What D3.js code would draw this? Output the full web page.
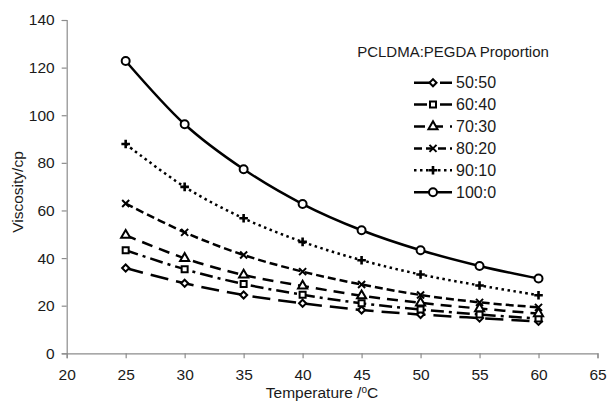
<!DOCTYPE html>
<html>
<head>
<meta charset="utf-8">
<script src="https://cdn.jsdelivr.net/npm/d3@7"></script>
<style>
  html, body { margin: 0; padding: 0; background: #fff; }
  svg { display: block; font-family: "Liberation Sans", Arial, sans-serif; }
</style>
</head>
<body>
<svg id="chart" width="609" height="401"></svg>
<script>
// Viscosity of PCLDMA:PEGDA blends against temperature
const temperatures = [25, 30, 35, 40, 45, 50, 55, 60];
const seriesNames = ["50:50", "60:40", "70:30", "80:20", "90:10", "100:0"];
const visc_50_50 = [35.8, 29.4, 24.5, 21.0, 18.2, 16.3, 14.8, 13.4];
const visc_60_40 = [43.3, 35.3, 29.1, 24.6, 21.0, 18.4, 16.3, 14.6];
const visc_70_30 = [49.6, 39.9, 32.9, 28.3, 24.2, 21.2, 18.8, 16.7];
const visc_80_20 = [62.9, 50.8, 41.3, 34.3, 28.9, 24.5, 21.4, 19.3];
const visc_90_10 = [87.9, 69.9, 56.7, 46.8, 39.1, 33.1, 28.5, 24.4];
const visc_100_0 = [122.8, 96.2, 77.3, 62.7, 51.7, 43.3, 36.7, 31.4];
const xTicks = [20, 25, 30, 35, 40, 45, 50, 55, 60, 65];
const yTicks = [0, 20, 40, 60, 80, 100, 120, 140];

const seriesValues = [visc_50_50, visc_60_40, visc_70_30, visc_80_20, visc_90_10, visc_100_0];

// line dash and marker style per blend
const styles = [
  { dash: "18,8", marker: "diamond" },
  { dash: "13,5,3,5", marker: "square" },
  { dash: "11,7", marker: "triangle" },
  { dash: "8,4", marker: "times" },
  { dash: "2.5,3.5", marker: "plus" },
  { dash: null, marker: "circle" }
];

const svg = d3.select("#chart");
const x = d3.scaleLinear().domain([20, 65]).range([66.7, 597.5]);
const y = d3.scaleLinear().domain([0, 140]).range([353.3, 20]);

const axisColor = "#8c8c8c";
const textColor = "#1a1a1a";

// axes
const xAxis = svg.append("g")
  .attr("transform", `translate(0,${y(0)})`)
  .call(d3.axisBottom(x).tickValues(xTicks).tickSize(5).tickPadding(7).tickFormat(d3.format("d")));
const yAxis = svg.append("g")
  .attr("transform", `translate(${x(20)},0)`)
  .call(d3.axisLeft(y).tickValues(yTicks).tickSize(5).tickPadding(7).tickFormat(d3.format("d")));
[xAxis, yAxis].forEach(g => {
  g.select(".domain").attr("stroke", axisColor).attr("stroke-width", 1.2);
  g.selectAll(".tick line").attr("stroke", axisColor).attr("stroke-width", 1.2);
  g.selectAll(".tick text").attr("fill", textColor).style("font-size", "15.5px")
    .style("font-family", "'Liberation Sans', Arial, sans-serif");
});
xAxis.selectAll(".tick text").attr("dy", "0.95em");

// axis titles
const xTitle = svg.append("text")
  .attr("x", 322).attr("y", 398)
  .attr("text-anchor", "middle")
  .attr("fill", textColor)
  .style("font-size", "15.5px");
xTitle.append("tspan").text("Temperature /");
xTitle.append("tspan").attr("dy", "-5").style("font-size", "10px").text("o");
xTitle.append("tspan").attr("dy", "5").text("C");

svg.append("text")
  .attr("transform", "translate(23,192) rotate(-90)")
  .attr("text-anchor", "middle")
  .attr("fill", textColor)
  .style("font-size", "15.5px")
  .text("Viscosity/cp");

// marker shapes
function markerPath(type) {
  const sym = {
    diamond: d3.symbolDiamond2 || d3.symbolDiamond,
    square: d3.symbolSquare,
    triangle: d3.symbolTriangle,
    times: d3.symbolTimes || d3.symbolX,
    plus: d3.symbolPlus,
    circle: d3.symbolCircle
  }[type];
  const size = { diamond: 32, square: 36, triangle: 36, times: 34, plus: 26, circle: 50 }[type];
  return d3.symbol().type(sym).size(size)();
}
function drawMarker(g, type, cx, cy) {
  const p = g.append("path")
    .attr("d", markerPath(type))
    .attr("transform", `translate(${cx},${cy})`)
    .attr("stroke", "#000")
    .attr("stroke-width", type === "plus" ? 2.6 : 2);
  if (type === "times" || type === "plus") p.attr("fill", "none");
  else p.attr("fill", "#fff");
}

const line = d3.line()
  .x(d => x(d[0]))
  .y(d => y(d[1]))
  .curve(d3.curveCatmullRom.alpha(0));

const plot = svg.append("g");
seriesValues.forEach((vals, i) => {
  const pts = temperatures.map((t, j) => [t, vals[j]]);
  const st = styles[i];
  const path = plot.append("path")
    .datum(pts)
    .attr("d", line)
    .attr("fill", "none")
    .attr("stroke", "#000")
    .attr("stroke-width", 2.5);
  if (st.dash) path.attr("stroke-dasharray", st.dash);
});
seriesValues.forEach((vals, i) => {
  const g = plot.append("g");
  temperatures.forEach((t, j) => drawMarker(g, styles[i].marker, x(t), y(vals[j])));
});

// legend
const legend = svg.append("g");
legend.append("text")
  .attr("x", 453).attr("y", 57)
  .attr("text-anchor", "middle")
  .attr("fill", textColor)
  .style("font-size", "15px")
  .text("PCLDMA:PEGDA Proportion");

seriesNames.forEach((name, i) => {
  const cy = 82.7 + 21.9 * i;
  const st = styles[i];
  const ln = legend.append("line")
    .attr("x1", 414).attr("x2", 452)
    .attr("y1", cy).attr("y2", cy)
    .attr("stroke", "#000").attr("stroke-width", 2.5);
  if (st.dash) ln.attr("stroke-dasharray", st.dash);
  drawMarker(legend, st.marker, 433, cy);
  legend.append("text")
    .attr("x", 456).attr("y", cy + 5.5)
    .attr("fill", textColor)
    .style("font-size", "16px")
    .text(name);
});
</script>
</body>
</html>
